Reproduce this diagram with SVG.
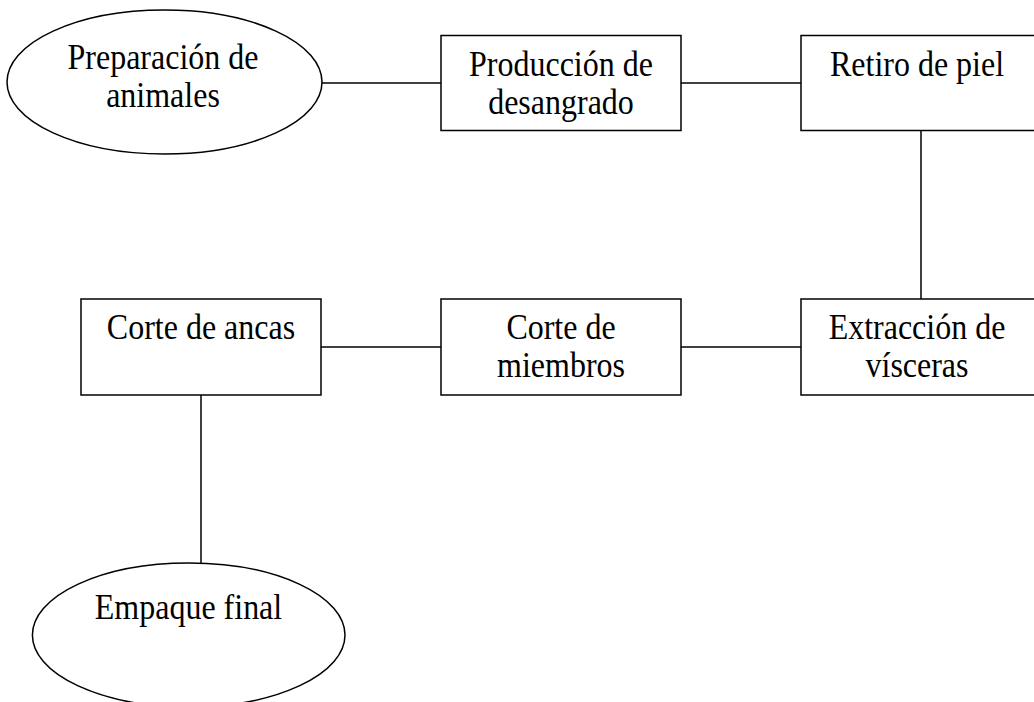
<svg xmlns="http://www.w3.org/2000/svg" width="1034" height="702" viewBox="0 0 1034 702">
<style>
.s{fill:#fff;stroke:#000;stroke-width:1.5}
.c line{stroke:#000;stroke-width:1.5}
text{font-family:"Liberation Serif","Times New Roman",serif;font-size:32px;fill:#000;text-anchor:middle}
</style>
<rect width="1034" height="702" fill="#fff"/>
<g class="c" id="connectors">
<line x1="322" y1="83" x2="441" y2="83"/>
<line x1="681" y1="83" x2="801" y2="83"/>
<line x1="921" y1="130" x2="921" y2="299"/>
<line x1="681" y1="347" x2="801" y2="347"/>
<line x1="321" y1="347" x2="441" y2="347"/>
<line x1="201" y1="395" x2="201" y2="563"/>
</g>
<g id="n1"><ellipse class="s" cx="164.5" cy="82" rx="157.5" ry="72"/><text transform="translate(163 69) scale(1 1.15)">Preparación de</text><text transform="translate(163 107) scale(1 1.15)">animales</text></g>
<g id="n2"><rect class="s" x="441" y="35.5" width="240" height="95"/><text transform="translate(561 76) scale(1 1.15)">Producción de</text><text transform="translate(561 114) scale(1 1.15)">desangrado</text></g>
<g id="n3"><rect class="s" x="801" y="35.5" width="240" height="95"/><text transform="translate(917 76) scale(1 1.15)">Retiro de piel</text></g>
<g id="n4"><rect class="s" x="801" y="299" width="240" height="96"/><text transform="translate(917 339) scale(1 1.15)">Extracción de</text><text transform="translate(917 377) scale(1 1.15)">vísceras</text></g>
<g id="n5"><rect class="s" x="441" y="299" width="240" height="96"/><text transform="translate(561 339) scale(1 1.15)">Corte de</text><text transform="translate(561 377) scale(1 1.15)">miembros</text></g>
<g id="n6"><rect class="s" x="81" y="299" width="240" height="96"/><text transform="translate(201 339) scale(1 1.15)">Corte de ancas</text></g>
<g id="n7"><ellipse class="s" cx="188.7" cy="635" rx="156.3" ry="72"/><text transform="translate(188.5 619) scale(1 1.15)">Empaque final</text></g>
</svg>
